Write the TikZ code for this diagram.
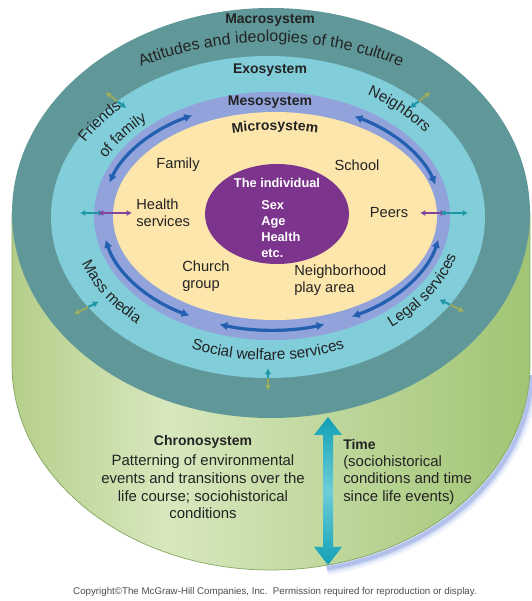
\documentclass[tikz,border=0pt]{standalone}
\usepackage{fontspec}
\setmainfont{Liberation Sans}
\usepackage{tikz}
\usetikzlibrary{arrows.meta, calc, decorations.text}
\definecolor{macroteal}{RGB}{96,152,153}
\definecolor{exocyan}{RGB}{130,205,218}
\definecolor{mesoblue}{RGB}{146,162,218}
\definecolor{microcream}{RGB}{253,230,172}
\definecolor{indivpurple}{RGB}{124,52,140}
\definecolor{linkblue}{RGB}{36,96,178}
\definecolor{linkteal}{RGB}{30,150,165}
\definecolor{linkpurple}{RGB}{130,70,160}
\definecolor{sprout}{RGB}{200,224,130}
\definecolor{grnedge}{RGB}{180,206,138}
\definecolor{grnlight}{RGB}{216,232,190}
\definecolor{grndark}{RGB}{160,196,116}
\definecolor{grnline}{RGB}{130,165,95}
\definecolor{timeteal}{RGB}{16,160,182}
\definecolor{timelight}{RGB}{110,205,215}
\definecolor{haze}{RGB}{110,140,220}
\definecolor{inkdark}{RGB}{35,35,35}

\pgfdeclarehorizontalshading{chronogreen}{100bp}{color(0bp)=(grnedge); color(25bp)=(grnedge); color(40bp)=(grnlight); color(75bp)=(grndark); color(100bp)=(grndark)}

\newcommand{\sysfont}{\fontsize{10.5}{12}\selectfont\bfseries}
\newcommand{\ringfont}{\fontsize{11.5}{13}\selectfont}
\newcommand{\culturefont}{\fontsize{12}{14}\selectfont}

\tikzset{
  sysname/.style={font=\sysfont, text=inkdark},
  ctx/.style={font=\fontsize{11}{12.8}\selectfont, text=inkdark, inner sep=0pt},
  indtext/.style={font=\fontsize{9.6}{12}\selectfont\bfseries, text=white, inner sep=0pt},
  chronobody/.style={font=\fontsize{11.2}{13.3}\selectfont, text=inkdark, inner sep=0pt},
  mesoarrow/.style={{Latex[length=6pt,width=6.5pt]}-{Latex[length=6pt,width=6.5pt]},
    line width=2.4pt, draw=linkblue},
  tealtwo/.style={{Latex[length=4pt,width=4.5pt]}-{Latex[length=4pt,width=4.5pt]},
    line width=1.3pt, draw=linkteal},
  purpletwo/.style={{Latex[length=4pt,width=4.5pt]}-{Latex[length=4pt,width=4.5pt]},
    line width=1.3pt, draw=linkpurple},
  sproutin/.style={-{Latex[length=4.5pt,width=5pt]}, line width=1.5pt, draw=linkteal},
  sproutout/.style={-{Latex[length=4.5pt,width=5pt,fill=sprout]}, line width=1.5pt, draw=sprout!75!black},
  ringtext/.style={decorate, decoration={text along path, text align=center, text color=inkdark}}
}

\begin{document}
\begin{tikzpicture}[x=0.75pt, y=0.75pt]
  \useasboundingbox (0,0) rectangle (532,601);
  % Centres of the rings
  \coordinate (macc) at (271,388);
  \coordinate (cylb) at (271,236);
  \coordinate (exoc) at (268,384);
  \coordinate (mesoc) at (272,385);
  \coordinate (microc) at (275,385);
  \coordinate (indc) at (277,387);

  % Haze under the base
  \foreach \w/\o in {10/0.12, 6/0.2, 3/0.35}
    \draw[haze, line width=\w pt, opacity=\o] ($(cylb)+(2,-3)+(282:259 and 205)$)
      arc[start angle=282, end angle=358, x radius=259, y radius=205];

  % Chronosystem cylinder
  \shade[shading=chronogreen, draw=grnline, line width=0.5pt]
    ($(cylb)+(-259,152)$) -- ($(cylb)+(-259,0)$)
    arc[start angle=180, end angle=360, x radius=259, y radius=205]
    -- ($(cylb)+(259,152)$) -- cycle;

  % Nested systems
  \fill[macroteal] (macc) ellipse[x radius=259, y radius=205];
  \fill[exocyan] (exoc) ellipse[x radius=217, y radius=161];
  \fill[mesoblue] (mesoc) ellipse[x radius=178, y radius=124];
  \fill[microcream] (microc) ellipse[x radius=162, y radius=104];
  \fill[indivpurple] (indc) ellipse[x radius=72, y radius=50];

  % Links inside the mesosystem
  \foreach \a/\b in {163/118, 61/16, 192/241, 252/288, 298/348}
    \draw[mesoarrow] ($(mesoc)+(\a:170 and 114)$)
      arc[start angle=\a, end angle=\b, x radius=170, y radius=114];

  % Links between exosystem and macrosystem
  \foreach \a in {134, 46, 214, 327, 270} {
    \draw[sproutin, shift={(exoc)}] ({217*cos(\a)},{161*sin(\a)}) -- ({0.94*217*cos(\a)},{0.94*161*sin(\a)});
    \draw[sproutout, shift={(exoc)}] ({217*cos(\a)},{161*sin(\a)}) -- ({1.08*217*cos(\a)},{1.08*161*sin(\a)});
  }

  % Links across the side of the rings
  \draw[tealtwo] (80,388) -- (104,388);
  \draw[purpletwo] (98,388) -- (132,388);
  \draw[purpletwo] (420,388) -- (446,388);
  \draw[tealtwo] (440,388) -- (468,388);

  % Time arrow
  \coordinate (timetop) at (328,184);
  \coordinate (timebot) at (328,36);
  \shade[top color=timeteal, bottom color=timeteal, middle color=timelight]
    (timetop) -- ++(14,-18) -- ++(-9,0) -- ($(timebot)+(5,18)$) -- ++(9,0)
    -- (timebot) -- ++(-14,18) -- ++(9,0) -- ($(timetop)+(-5,-18)$) -- ++(-9,0) -- cycle;

  % System names
  \node[sysname] (macro) at (270,581) {Macrosystem};
  \node[sysname] (exo) at (270,531) {Exosystem};
  \node[sysname] (meso) at (270,499) {Mesosystem};
  \path[ringtext, decoration={text={|\sysfont|Microsystem}}]
    ($(microc)+(125:160 and 86)$) arc[start angle=125, end angle=55, x radius=160, y radius=86];

  % Text along the rings
  \path[ringtext, decoration={text={|\culturefont|Attitudes and ideologies of the culture}}]
    ($(macc)+(155:250 and 171)$) arc[start angle=155, end angle=25, x radius=250, y radius=171];
  \path[ringtext, decoration={text={|\ringfont|Friends}}]
    ($(exoc)+(177:209 and 153)$) arc[start angle=177, end angle=113, x radius=209, y radius=153];
  \path[ringtext, decoration={text={|\ringfont|of family}}]
    ($(exoc)+(177:181 and 130)$) arc[start angle=177, end angle=113, x radius=181, y radius=130];
  \path[ringtext, decoration={text={|\ringfont|Neighbors}}]
    ($(exoc)+(76:195 and 142)$) arc[start angle=76, end angle=16, x radius=195, y radius=142];
  \path[ringtext, decoration={text={|\ringfont|Mass media}}]
    ($(exoc)+(182:197 and 143)$) arc[start angle=182, end angle=242, x radius=197, y radius=143];
  \path[ringtext, decoration={text={|\ringfont|Legal services}}]
    ($(exoc)+(298:196 and 142)$) arc[start angle=298, end angle=358, x radius=196, y radius=142];
  \path[ringtext, decoration={text={|\ringfont|Social welfare services}}]
    ($(exoc)+(200:196 and 143)$) arc[start angle=200, end angle=340, x radius=196, y radius=143];

  % Microsystem settings
  \node[ctx] (family) at (178,436) {Family};
  \node[ctx] (school) at (357,436) {School};
  \node[ctx, anchor=west, align=left] (health) at (136,388) {Health\\services};
  \node[ctx] (peers) at (389,388) {Peers};
  \node[ctx, anchor=west, align=left] (church) at (182,325) {Church\\group};
  \node[ctx, anchor=west, align=left] (playarea) at (294,321) {Neighborhood\\play area};

  % The individual
  \node[indtext] (indiv) at (277,418) {The individual};
  \node[indtext, anchor=west, align=left] (traits) at (261,372) {Sex\\Age\\Health\\etc.};

  % Chronosystem and time
  \node[sysname] (chrono) at (203,159) {Chronosystem};
  \node[chronobody, align=center] (chronotext) at (203,114)
    {Patterning of environmental\\events and transitions over the\\life course; sociohistorical\\conditions};
  \node[sysname, anchor=west, inner sep=0pt] (time) at (343,157) {Time};
  \node[chronobody, anchor=west, align=left] (timetext) at (343,121)
    {(sociohistorical\\conditions and time\\since life events)};

  % Credit line
  \node[font=\fontsize{7.3}{8}\selectfont, text=black!70] (credit) at (275,9)
    {Copyright\textcopyright The McGraw-Hill Companies, Inc.\ \ Permission required for reproduction or display.};
\end{tikzpicture}
\end{document}
